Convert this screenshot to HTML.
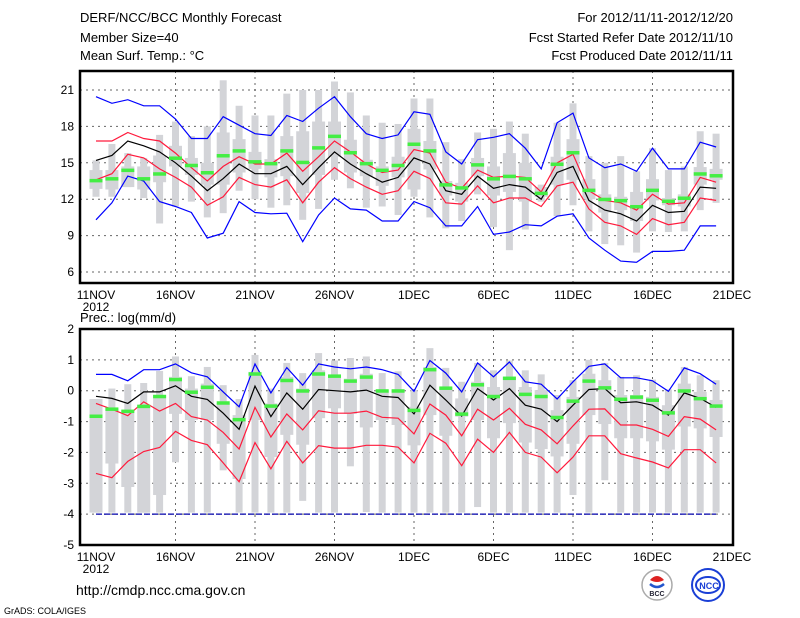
<!DOCTYPE html>
<html><head><meta charset="utf-8"><style>
html,body{margin:0;padding:0;background:#fff;}
svg{display:block;font-family:"Liberation Sans",sans-serif;}
</style></head><body>
<svg id="chart" width="800" height="618" viewBox="0 0 800 618">
<text x="80" y="22" font-size="13">DERF/NCC/BCC Monthly Forecast</text>
<text x="80" y="42" font-size="13">Member Size=40</text>
<text x="80" y="60" font-size="13">Mean Surf. Temp.: °C</text>
<text x="733" y="22" font-size="13" text-anchor="end">For 2012/11/11-2012/12/20</text>
<text x="733" y="42" font-size="13" text-anchor="end">Fcst Started Refer Date 2012/11/10</text>
<text x="733" y="60" font-size="13" text-anchor="end">Fcst Produced Date 2012/11/11</text>
<text x="80" y="322" font-size="13">Prec.: log(mm/d)</text>
<text x="76" y="595" font-size="14">http://cmdp.ncc.cma.gov.cn</text>
<text x="4" y="614" font-size="9">GrADS: COLA/IGES</text>
<g>
<circle cx="657" cy="585" r="15" fill="#fff" stroke="#aaa" stroke-width="1.5"/>
<path d="M650 580 q7 -8 14 0 q-7 4 -14 0z" fill="#d22"/>
<path d="M650 584 q7 6 14 0" fill="none" stroke="#2255cc" stroke-width="2.5"/>
<text x="657" y="596" font-size="7" font-weight="bold" text-anchor="middle" fill="#223">BCC</text>
</g>
<g>
<circle cx="708" cy="585" r="16" fill="#fff" stroke="#1a3fd6" stroke-width="2"/>
<ellipse cx="708" cy="585" rx="12" ry="8" fill="none" stroke="#1a3fd6" stroke-width="2"/>
<text x="709" y="589" font-size="9" font-weight="bold" text-anchor="middle" fill="#1a3fd6">NCC</text>
</g>
</svg>
<script>
// ---- Temperature data (40 days, 11NOV..20DEC) ----
const tBlueHi=[20.45,19.9,20.2,19.7,19.7,18.6,17.0,17.0,18.8,18.1,17.4,17.25,18.9,18.4,19.5,20.45,18.8,17.4,17.0,17.3,19.2,19.0,15.9,14.9,16.9,17.1,17.4,16.2,14.5,18.3,19.1,15.4,14.6,14.9,14.3,16.2,14.5,14.5,16.7,16.3];
const tBlueLo=[10.3,11.7,13.9,13.5,11.8,11.4,10.9,8.8,9.2,11.8,10.9,10.8,10.85,8.5,10.7,12.1,11.2,11.1,10.2,10.2,11.8,11.3,9.8,9.8,11.4,9.1,9.3,9.9,9.8,10.6,10.8,8.8,7.8,6.9,6.8,7.7,7.7,7.8,9.8,9.8];
const tRedHi=[16.8,16.8,17.5,17.0,16.8,15.8,14.6,13.5,14.7,15.5,14.9,14.9,15.8,14.3,15.5,16.8,15.9,14.9,14.2,14.4,16.1,15.8,13.4,12.9,14.4,13.8,13.9,13.8,12.6,15.0,15.7,12.7,11.9,11.7,11.1,12.4,11.6,11.7,13.8,13.4];
const tMean=[15.2,15.6,16.8,16.4,15.9,15.0,13.9,12.7,13.7,14.9,14.1,14.1,14.7,13.2,14.6,15.9,14.9,14.1,13.4,13.8,15.4,14.9,12.7,12.4,13.9,12.9,13.2,13.0,12.0,14.2,14.7,11.9,11.1,10.8,10.2,11.5,10.9,11.0,13.0,12.9];
const tRedLo=[13.6,14.1,15.7,15.4,14.5,13.8,13.0,11.5,12.2,13.8,13.2,13.0,13.6,11.7,13.4,14.6,13.7,13.0,12.4,12.7,14.3,13.7,11.7,11.6,13.1,11.7,12.1,12.1,11.4,13.1,13.4,11.2,10.1,9.8,9.1,10.4,9.9,10.1,12.1,11.9];
const tGreen=[13.55,13.7,14.4,13.7,14.1,15.4,14.8,14.2,15.6,16.0,15.1,14.95,16.0,15.05,16.25,17.2,15.85,14.95,14.4,14.8,16.55,16.0,13.2,12.95,14.85,13.7,13.9,13.7,12.5,14.9,15.85,12.75,12.0,11.9,11.4,12.75,11.85,12.1,14.1,13.95];
const tOutHi=[15.2,16.55,15.8,15.4,17.3,18.4,17.2,18.0,21.8,19.7,18.9,18.9,20.7,21.0,21.0,21.7,20.8,18.9,18.3,18.2,20.3,20.3,16.7,15.3,17.5,17.8,18.4,17.4,13.2,18.3,19.9,15.55,15.0,15.55,14.3,16.2,14.4,14.7,17.6,17.4];
const tOutLo=[12.2,12.2,13.0,12.1,10.0,11.4,11.8,10.5,10.85,12.7,12.0,11.3,11.5,10.3,11.2,13.6,12.9,11.3,11.4,10.7,12.2,10.5,9.6,10.2,12.4,9.7,7.8,9.5,11.8,10.6,11.5,9.35,8.3,8.2,7.6,9.35,9.3,9.35,11.1,11.7];
const tInHi=[14.4,14.4,14.7,14.7,15.6,16.4,15.4,15.0,17.5,16.95,15.9,15.3,17.2,17.6,18.4,18.4,16.9,15.25,14.7,15.5,17.8,16.8,13.5,13.35,15.4,14.7,15.8,15.0,13.0,15.5,16.95,13.65,12.4,12.2,12.6,13.65,12.1,12.4,14.65,14.5];
const tInLo=[12.85,12.8,13.0,12.8,13.4,14.7,14.0,13.2,13.2,14.2,14.5,13.8,13.9,12.5,14.0,15.5,14.2,13.9,13.1,13.8,12.8,14.45,12.3,11.8,13.9,12.3,12.6,11.8,12.2,13.2,13.6,12.0,10.9,11.1,10.2,11.9,11.5,11.4,13.2,13.6];
const tTicks=[6,9,12,15,18,21];
// ---- Precipitation data ----
const pBlueHi=[0.53,0.53,0.32,0.68,0.68,0.87,0.58,0.45,-0.04,-0.52,0.87,-0.07,0.75,0.18,0.87,0.77,0.71,0.77,0.68,0.53,-0.02,0.98,0.57,-0.04,0.9,0.45,0.93,0.29,0.21,-0.27,0.29,0.79,0.87,0.42,0.42,0.32,-0.02,0.74,0.55,0.21];
const pBlueLo=[-4,-4,-4,-4,-4,-4,-4,-4,-4,-4,-4,-4,-4,-4,-4,-4,-4,-4,-4,-4,-4,-4,-4,-4,-4,-4,-4,-4,-4,-4,-4,-4,-4,-4,-4,-4,-4,-4,-4,-4];
const pMean=[-0.18,-0.25,-0.41,-0.04,-0.04,0.16,-0.18,-0.28,-0.73,-1.25,0.15,-0.84,-0.07,-0.6,0.04,0.0,-0.04,0.02,-0.18,-0.22,-0.75,0.18,-0.3,-0.82,0.07,-0.3,0.07,-0.47,-0.6,-1.0,-0.47,0.04,0.07,-0.39,-0.36,-0.47,-0.79,-0.07,-0.25,-0.54];
const pRedHi=[-0.41,-0.6,-0.81,-0.36,-0.66,-0.41,-0.84,-0.95,-1.35,-1.89,-0.54,-1.5,-0.75,-1.27,-0.65,-0.73,-0.73,-0.66,-0.86,-0.89,-1.4,-0.43,-0.79,-1.46,-0.6,-0.95,-0.57,-1.09,-1.27,-1.72,-1.14,-0.6,-0.59,-1.11,-1.11,-1.25,-1.48,-0.84,-0.92,-1.27];
const pRedLo=[-2.68,-2.82,-2.29,-1.97,-1.84,-1.32,-1.61,-1.75,-2.34,-2.95,-1.68,-2.53,-1.64,-2.34,-1.78,-1.86,-1.86,-1.77,-1.77,-1.83,-2.34,-1.38,-1.7,-2.43,-1.57,-2.0,-1.35,-2.0,-2.15,-2.66,-2.15,-1.46,-1.46,-2.04,-2.18,-2.31,-2.5,-1.91,-1.91,-2.34];
const pGreen=[-0.82,-0.59,-0.66,-0.5,-0.18,0.37,-0.04,0.12,-0.39,-0.93,0.55,-0.49,0.34,0.0,0.55,0.48,0.32,0.45,0.0,0.0,-0.63,0.69,0.09,-0.75,0.2,-0.18,0.41,-0.11,-0.18,-0.86,-0.33,0.32,0.1,-0.27,-0.2,-0.3,-0.71,0.0,-0.25,-0.49];
const pOutHi=[-0.27,0.07,0.21,0.25,0.64,1.11,0.47,0.77,0.18,-0.27,1.16,0.07,0.9,0.57,1.22,0.98,1.06,1.11,0.57,0.63,0.02,1.38,0.74,0.29,0.9,0.66,0.98,0.66,0.53,-0.14,0.34,1.0,0.9,0.45,0.5,0.36,0.04,0.77,0.5,0.34];
const pOutLo=[-3.95,-3.95,-3.95,-3.95,-3.95,-2.32,-3.95,-3.95,-2.58,-3.95,-3.95,-3.95,-3.95,-3.57,-3.95,-3.95,-2.45,-3.93,-3.95,-3.95,-3.95,-3.95,-3.95,-3.95,-3.77,-3.95,-3.95,-3.95,-3.95,-3.95,-3.38,-3.95,-2.9,-3.95,-3.95,-3.95,-3.95,-3.95,-3.95,-3.95];
const pInHi=[-0.27,-0.57,-0.63,-0.47,-0.14,0.45,0.07,0.23,-0.41,-0.79,0.61,-0.41,0.45,0.07,0.66,0.5,0.39,0.55,0.02,0.02,-0.52,0.77,0.12,-0.25,0.29,0.12,0.45,0.12,0.02,-0.63,-0.2,0.55,0.34,-0.14,-0.14,-0.2,-0.47,0.23,-0.04,-0.3];
const pInLo=[-3.95,-2.36,-3.12,-3.95,-3.38,-0.75,-0.95,-0.95,-1.72,-2.86,-0.95,-2.15,-1.43,-1.75,-0.89,-0.57,-0.75,-1.19,-0.95,-1.11,-1.77,-0.79,-1.46,-0.84,-0.95,-1.54,-1.05,-1.68,-1.89,-2.13,-1.72,-0.79,-1.08,-1.54,-1.54,-1.64,-1.91,-1.16,-1.22,-1.5];
const pTicks=[-5,-4,-3,-2,-1,0,1,2];
const xLabels=["11NOV","16NOV","21NOV","26NOV","1DEC","6DEC","11DEC","16DEC","21DEC"];

const NS="http://www.w3.org/2000/svg";
const svg=document.getElementById('chart');
const X0=96, DX=15.9, FL=80, FR=733;
function xs(i){return X0+i*DX;}
function mk(tag,attrs,parent){const e=document.createElementNS(NS,tag);for(const k in attrs)e.setAttribute(k,attrs[k]);(parent||svg).appendChild(e);return e;}

function panel(name,top,bot,ticks,sets){
  const g=mk('g',{});
  
  
  const ys=v=>sets.yA+(v-sets.vA)*(sets.yB-sets.yA)/(sets.vB-sets.vA);
  ticks.forEach(t=>{const y=ys(t);
    const l=mk('line',{x1:FL,x2:FR,y1:y,y2:y,stroke:'#666','stroke-dasharray':'2,4','stroke-width':1},g);
    
    
    const tx=mk('text',{x:FL-6,y:y+4,'font-size':12,'text-anchor':'end'},g);tx.textContent=t;
    
    
  });
  xLabels.forEach((lab,k)=>{const x=xs(k*5);
    if(k>0&&k<8){const l=mk('line',{x1:x,x2:x,y1:top,y2:bot,stroke:'#666','stroke-dasharray':'2,4','stroke-width':1},g);
      
      }
    const tx=mk('text',{x:x,y:bot+16,'font-size':12,'text-anchor':'middle'},g);tx.textContent=lab;
    
    
  });
  const yr=mk('text',{x:96,y:bot+28,'font-size':12,'text-anchor':'middle'},g);yr.textContent='2012';
  
  
  for(let i=0;i<40;i++){const x=xs(i);
    const o=mk('rect',{x:x-3.5,width:7,y:ys(sets.oh[i]),height:Math.max(0,ys(sets.ol[i])-ys(sets.oh[i])),fill:'#d3d4d8'},g);
    
    
    const b=mk('rect',{x:x-6.5,width:13,y:ys(sets.ih[i]),height:Math.max(0,ys(sets.il[i])-ys(sets.ih[i])),fill:'#d3d4d8'},g);
    
    
  }
  const lines=[[sets.bh,'#0000ff','max-line',null],[sets.bl,sets.minColor,'min-line',sets.minDash],[sets.rh,'#ff1a3c','upper-line',null],[sets.rl,'#ff1a3c','lower-line',null],[sets.m,'#000','mean-line',null]];
  lines.forEach(([arr,c,n,dash])=>{
    const p=mk('polyline',{points:arr.map((v,i)=>xs(i)+','+ys(v).toFixed(1)).join(' '),fill:'none',stroke:c,'stroke-width':1.2},g);
    if(dash)p.setAttribute('stroke-dasharray',dash);
    
    
  });
  for(let i=0;i<40;i++){
    const r=mk('rect',{x:xs(i)-6.5,y:ys(sets.gr[i])-1.5,width:13,height:3.5,fill:'#44ee44'},g);
    
    
  }
  const f=mk('rect',{x:FL,y:top,width:FR-FL,height:bot-top,fill:'none',stroke:'#000','stroke-width':2.5},g);
  
  
}
panel('temperature-panel',71,283,tTicks,{yA:90,vA:21,yB:272,vB:6,oh:tOutHi,ol:tOutLo,ih:tInHi,il:tInLo,bh:tBlueHi,bl:tBlueLo,rh:tRedHi,rl:tRedLo,m:tMean,gr:tGreen,minColor:'#0000ff',minDash:null});
panel('precip-panel',329,545,pTicks,{yA:329,vA:2,yB:545,vB:-5,oh:pOutHi,ol:pOutLo,ih:pInHi,il:pInLo,bh:pBlueHi,bl:pBlueLo,rh:pRedHi,rl:pRedLo,m:pMean,gr:pGreen,minColor:'#0000aa',minDash:'6,2'});
</script>
</body></html>
